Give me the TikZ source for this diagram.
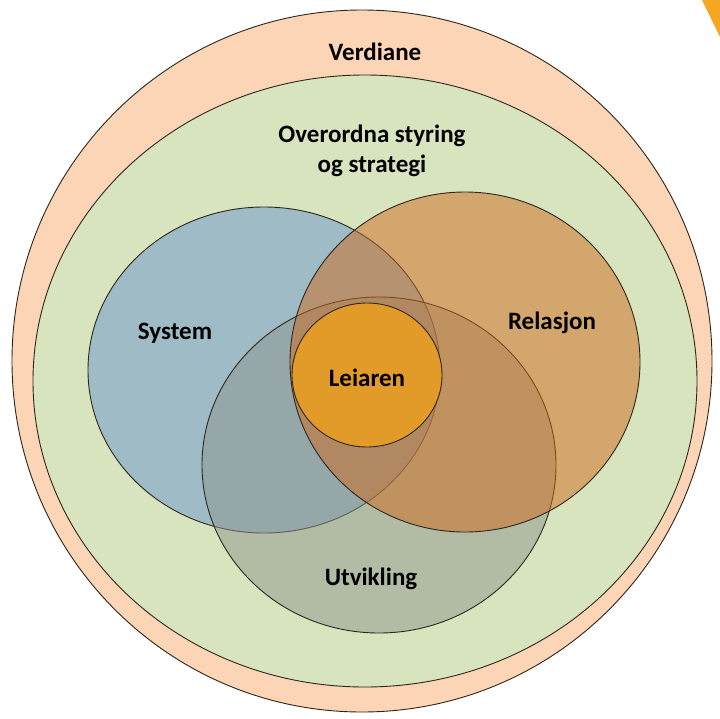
\documentclass[tikz,border=0pt]{standalone}
\usepackage{fontspec}
\setmainfont{Carlito}
\definecolor{peach}{RGB}{251,213,181}
\definecolor{sage}{RGB}{216,228,190}
\definecolor{sysc}{RGB}{102,148,206}
\definecolor{relc}{RGB}{206,106,30}
\definecolor{utvc}{RGB}{142,148,140}
\definecolor{leic}{RGB}{226,154,40}
\definecolor{edge}{RGB}{45,38,28}
\definecolor{corner}{RGB}{245,166,35}
\tikzset{
  ring/.style={draw=edge, line width=0.9pt},
  venn/.style={draw=edge, line width=0.9pt, fill opacity=0.5},
  lbl/.style={font=\bfseries\fontsize{25}{30.5}\selectfont, text=black, align=center}
}
\begin{document}
\begin{tikzpicture}[x=1pt,y=-1pt]
\useasboundingbox (0,0) rectangle (720,718);
\fill[white] (0,0) rectangle (720,718);
\fill[corner] (702,0) -- (720,0) -- (720,37) -- cycle;
\draw[ring, fill=peach] (362,361) ellipse [x radius=350, y radius=351];
\draw[ring, fill=sage] (365,381) ellipse [x radius=332, y radius=306];
\draw[venn, fill=sysc] (264,370) ellipse [x radius=176, y radius=163];
\draw[venn, fill=utvc] (379,465) ellipse [x radius=177, y radius=168];
\draw[venn, fill=relc] (465,362) ellipse [x radius=175, y radius=170];
\draw[ring, fill=leic] (367,375) ellipse [x radius=75, y radius=72];
\node[lbl] (verdiane) at (375,52) {Verdiane};
\node[lbl] (overordna) at (372,151) {Overordna styring\\og strategi};
\node[lbl] (system) at (175,333) {System};
\node[lbl] (relasjon) at (552,323) {Relasjon};
\node[lbl] (leiaren) at (367,378) {Leiaren};
\node[lbl] (utvikling) at (371,579) {Utvikling};
\end{tikzpicture}
\end{document}
